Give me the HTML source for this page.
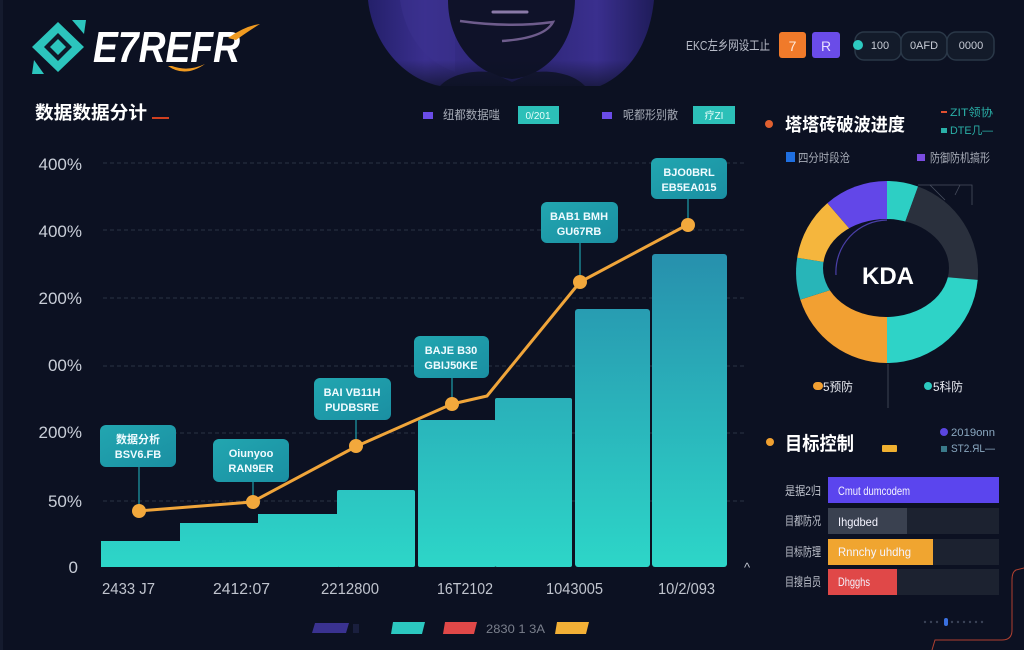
<!DOCTYPE html>
<html><head><meta charset="utf-8"><style>
html,body{margin:0;padding:0;background:#0c1122;}
svg{display:block;}
text{font-family:"Liberation Sans","Noto Sans CJK SC",sans-serif;}
</style></head><body>
<svg width="1024" height="650" viewBox="0 0 1024 650" xmlns="http://www.w3.org/2000/svg">
<defs>
<linearGradient id="barg" gradientUnits="userSpaceOnUse" x1="0" y1="254" x2="0" y2="567">
<stop offset="0" stop-color="#2790ad"/><stop offset="1" stop-color="#2dd6c8"/>
</linearGradient>
<linearGradient id="boxg" x1="0" y1="0" x2="1" y2="1">
<stop offset="0" stop-color="#22a6b0"/><stop offset="1" stop-color="#1a8fa2"/>
</linearGradient>
<linearGradient id="hood" x1="0" y1="0" x2="1" y2="0">
<stop offset="0" stop-color="#24206a"/><stop offset="0.2" stop-color="#3a2f8e"/><stop offset="0.5" stop-color="#2a2470"/><stop offset="0.8" stop-color="#3a2f8e"/><stop offset="1" stop-color="#1f1c5a"/>
</linearGradient>
<linearGradient id="hoodfade" x1="0" y1="0" x2="0" y2="1">
<stop offset="0" stop-color="#0c1122" stop-opacity="0"/><stop offset="1" stop-color="#0c1122" stop-opacity="0.7"/>
</linearGradient>
</defs>
<rect width="1024" height="650" fill="#0c1122"/>
<rect x="0" y="0" width="3" height="650" fill="#151b2e"/>

<!-- silhouette -->
<path d="M368,0 C372,40 400,78 440,86 L600,86 C632,72 650,40 654,0 Z" fill="url(#hood)"/>
<path d="M400,0 C405,35 425,62 455,72 L455,0 Z" fill="#3b318f" opacity="0.5"/>
<path d="M448,0 C448,45 478,76 512,79 C546,76 574,45 575,0 Z" fill="#0f1229"/>
<path d="M440,86 C450,75 470,70 490,72 L512,82 L535,72 C555,70 575,75 585,86 Z" fill="#141733"/>
<path d="M493,12 L527,12" stroke="#8a7aa8" stroke-width="3" stroke-linecap="round"/>
<path d="M460,21 Q510,28 553,22 Q545,38 502,41" stroke="#6e5c8c" stroke-width="2.5" fill="none"/>
<rect x="368" y="60" width="290" height="28" fill="url(#hoodfade)"/>

<!-- logo -->
<g>
<path d="M58,22 L84,47 L58,72 L32,47 Z" fill="#2cc5bd"/>
<path d="M72,20 L86,20 L84,34 Z" fill="#2cc5bd"/>
<path d="M44,74 L32,74 L34,60 Z" fill="#2cc5bd"/>
<path d="M58,33 L72,47 L58,61 L44,47 Z" fill="#0f1828"/>
<path d="M58,39 L66,47 L58,55 L50,47 Z" fill="#2cc5bd"/>
</g>
<text x="93" y="62" font-size="44" font-weight="bold" font-style="italic" fill="#ffffff" textLength="147" lengthAdjust="spacingAndGlyphs">E7REFR</text>
<path d="M228,38 Q245,26 260,24 Q250,30 236,40 Z" fill="#f09a20"/>
<path d="M168,66 Q185,78 205,64 Q188,72 172,66 Z" fill="#f09a20"/>

<!-- header right -->
<text x="686" y="50" font-size="13" fill="#b8bcc8" textLength="84" lengthAdjust="spacingAndGlyphs">EKC左乡网设工止</text>
<rect x="779" y="32" width="27" height="26" rx="3" fill="#f07a2a"/>
<text x="792.5" y="51" font-size="14" fill="#ffe8d8" text-anchor="middle">7</text>
<rect x="812" y="32" width="28" height="26" rx="3" fill="#6a4ce8"/>
<text x="826" y="51" font-size="14" fill="#e8e0ff" text-anchor="middle">R</text>
<rect x="855" y="32" width="46" height="28" rx="9" fill="#131b2a" stroke="#2a3848" stroke-width="1.5"/>
<rect x="901" y="32" width="46" height="28" rx="9" fill="#131b2a" stroke="#2a3848" stroke-width="1.5"/>
<rect x="947" y="32" width="47" height="28" rx="9" fill="#131b2a" stroke="#2a3848" stroke-width="1.5"/>
<circle cx="858" cy="45" r="5" fill="#2dc9c0"/>
<text x="880" y="49" font-size="11" fill="#c8ccd6" text-anchor="middle">100</text>
<text x="924" y="49" font-size="11" fill="#c8ccd6" text-anchor="middle">0AFD</text>
<text x="971" y="49" font-size="11" fill="#c8ccd6" text-anchor="middle">0000</text>

<!-- section title -->
<text x="35" y="119" font-size="18" font-weight="bold" fill="#ffffff" textLength="112" lengthAdjust="spacingAndGlyphs">数据数据分计</text>
<rect x="152" y="117" width="17" height="2" fill="#d04020"/>

<!-- top legend -->
<rect x="423" y="112" width="10" height="7" fill="#6a4ce8"/>
<text x="443" y="119" font-size="12" fill="#a8adb8" textLength="57" lengthAdjust="spacingAndGlyphs">纽都数据嗤</text>
<rect x="518" y="106" width="41" height="18" fill="#2cc0b8"/>
<text x="538" y="119" font-size="10" fill="#e8fffc" text-anchor="middle">0/201</text>
<rect x="602" y="112" width="10" height="7" fill="#6a4ce8"/>
<text x="623" y="119" font-size="12" fill="#a8adb8" textLength="55" lengthAdjust="spacingAndGlyphs">呢都形别散</text>
<rect x="693" y="106" width="42" height="18" fill="#2cc0b8"/>
<text x="714" y="119" font-size="10" fill="#e8fffc" text-anchor="middle">疗ZI</text>

<!-- grid -->
<g stroke="#2a3244" stroke-width="1" stroke-dasharray="4 3">
<line x1="103" y1="163" x2="745" y2="163"/>
<line x1="103" y1="230" x2="745" y2="230"/>
<line x1="103" y1="298" x2="745" y2="298"/>
<line x1="103" y1="366" x2="745" y2="366"/>
<line x1="103" y1="433" x2="745" y2="433"/>
<line x1="103" y1="501" x2="745" y2="501"/>
</g>
<g font-size="17" fill="#c9ced8" text-anchor="end">
<text x="82" y="170">400%</text>
<text x="82" y="237">400%</text>
<text x="82" y="304">200%</text>
<text x="82" y="371">00%</text>
<text x="82" y="438">200%</text>
<text x="82" y="507">50%</text>
<text x="78" y="573">0</text>
</g>

<!-- bars -->
<g fill="url(#barg)">
<rect x="101" y="541" width="80" height="26"/>
<rect x="180" y="523" width="79" height="44"/>
<rect x="258" y="514" width="80" height="53"/>
<rect x="337" y="490" width="78" height="77" rx="2"/>
<rect x="418" y="420" width="78" height="147" rx="2"/>
<rect x="495" y="398" width="77" height="169" rx="2"/>
<rect x="575" y="309" width="75" height="258" rx="3"/>
<rect x="652" y="254" width="75" height="313" rx="3"/>
</g>

<!-- stems -->
<g stroke="#1e9fab" stroke-width="1.2">
<line x1="139" y1="467" x2="139" y2="511"/>
<line x1="253" y1="482" x2="253" y2="502"/>
<line x1="356" y1="420" x2="356" y2="446"/>
<line x1="452" y1="378" x2="452" y2="404"/>
<line x1="580" y1="243" x2="580" y2="282"/>
<line x1="688" y1="199" x2="688" y2="225"/>
</g>

<!-- line -->
<path d="M138,511 L252,502 L357,446 L452,404 L487,396 L580,282 L687,225" fill="none" stroke="#f0a53a" stroke-width="3" stroke-linejoin="round"/>
<g fill="#f2a83c">
<circle cx="139" cy="511" r="7"/>
<circle cx="253" cy="502" r="7"/>
<circle cx="356" cy="446" r="7"/>
<circle cx="452" cy="404" r="7"/>
<circle cx="580" cy="282" r="7"/>
<circle cx="688" cy="225" r="7"/>
</g>

<!-- callouts -->
<g fill="url(#boxg)">
<rect x="100" y="425" width="76" height="42" rx="6"/>
<rect x="213" y="439" width="76" height="43" rx="6"/>
<rect x="314" y="378" width="77" height="42" rx="6"/>
<rect x="414" y="336" width="75" height="42" rx="6"/>
<rect x="541" y="202" width="77" height="41" rx="6"/>
<rect x="651" y="158" width="76" height="41" rx="6"/>
</g>
<g font-size="11" font-weight="bold" fill="#f0fbff" text-anchor="middle">
<text x="138" y="443">数据分析</text><text x="138" y="458">BSV6.FB</text>
<text x="251" y="457">Oiunyoo</text><text x="251" y="472">RAN9ER</text>
<text x="352" y="396">BAI VB11H</text><text x="352" y="411">PUDBSRE</text>
<text x="451" y="354">BAJE B30</text><text x="451" y="369">GBIJ50KE</text>
<text x="579" y="220">BAB1 BMH</text><text x="579" y="235">GU67RB</text>
<text x="689" y="176">BJO0BRL</text><text x="689" y="191">EB5EA015</text>
</g>

<!-- x labels -->
<g font-size="16" fill="#c0c4ce">
<text x="102" y="594" textLength="53" lengthAdjust="spacingAndGlyphs">2433 J7</text>
<text x="213" y="594" textLength="57" lengthAdjust="spacingAndGlyphs">2412:07</text>
<text x="321" y="594" textLength="58" lengthAdjust="spacingAndGlyphs">2212800</text>
<text x="437" y="594" textLength="56" lengthAdjust="spacingAndGlyphs">16T2102</text>
<text x="546" y="594" textLength="57" lengthAdjust="spacingAndGlyphs">1043005</text>
<text x="658" y="594" textLength="57" lengthAdjust="spacingAndGlyphs">10/2/093</text>
</g>
<text x="744" y="572" font-size="13" fill="#c0c4ce">^</text>

<!-- bottom legend -->
<path d="M315,623 L349,623 L346,633 L312,633 Z" fill="#3a3290"/>
<rect x="353" y="624" width="6" height="9" fill="#1a1f3e"/>
<path d="M393,622 L425,622 L422,634 L391,634 Z" fill="#2cc8c0"/>
<path d="M445,622 L477,622 L474,634 L443,634 Z" fill="#e04848"/>
<text x="486" y="633" font-size="12" fill="#7a7f8c" textLength="59" lengthAdjust="spacingAndGlyphs">2830 1 3A</text>
<path d="M557,622 L589,622 L586,634 L555,634 Z" fill="#f3b036"/>

<!-- right panel: donut section -->
<circle cx="769" cy="124" r="4" fill="#e06030"/>
<text x="785" y="131" font-size="18" font-weight="bold" fill="#ffffff" textLength="120" lengthAdjust="spacingAndGlyphs">塔塔砖破波进度</text>
<rect x="941" y="111" width="6" height="2" fill="#e05030"/>
<text x="950" y="116" font-size="11" fill="#2ab0a8" textLength="43" lengthAdjust="spacingAndGlyphs">ZIT领协</text>
<rect x="941" y="128" width="6" height="5" fill="#2ab0a8"/>
<text x="950" y="134" font-size="11" fill="#2ab0a8" textLength="43" lengthAdjust="spacingAndGlyphs">DTE几—</text>
<rect x="786" y="152" width="9" height="10" fill="#1f6fe0"/>
<text x="798" y="162" font-size="12" fill="#a8adb8" textLength="52" lengthAdjust="spacingAndGlyphs">四分时段沧</text>
<rect x="917" y="154" width="8" height="7" fill="#7a4ce0"/>
<text x="930" y="162" font-size="12" fill="#a8adb8" textLength="60" lengthAdjust="spacingAndGlyphs">防御防机搞形</text>

<!-- donut wedges, center 887,272 r 91 -->
<g id="donut">
<path d="M887,272 L887,181 A91,91 0 0 1 918.1,186.5 Z" fill="#2dcfc4"/>
<path d="M887,272 L918.1,186.5 A91,91 0 0 1 977.7,279.9 Z" fill="#2a303d"/>
<path d="M887,272 L977.7,279.9 A91,91 0 0 1 887,363 Z" fill="#2ed3c7"/>
<path d="M887,272 L887,363 A91,91 0 0 1 800.3,299.6 Z" fill="#f2a032"/>
<path d="M887,272 L800.3,299.6 A91,91 0 0 1 797.2,257.8 Z" fill="#28b5b8"/>
<path d="M887,272 L797.2,257.8 A91,91 0 0 1 827.4,203.1 Z" fill="#f5b63d"/>
<path d="M887,272 L827.4,203.1 A91,91 0 0 1 887,181 Z" fill="#6247e8"/>
<ellipse cx="886" cy="268" rx="63" ry="49" fill="#0c1122"/>
</g>
<path d="M887,220 A52,52 0 0 0 836,275" fill="none" stroke="#4a3fa8" stroke-width="1.2"/>
<g stroke="#4a5060" stroke-width="0.8" fill="none">
<path d="M918,185 L972,185 L972,205"/>
<path d="M930,185 L945,200"/>
<path d="M960,185 L955,195"/>
</g>
<line x1="888" y1="364" x2="888" y2="408" stroke="#4a5060" stroke-width="0.8"/>
<text x="888" y="284" font-size="24" font-weight="bold" fill="#ffffff" text-anchor="middle">KDA</text>
<rect x="813" y="382" width="10" height="8" rx="4" fill="#f2a032"/>
<text x="823" y="391" font-size="12" fill="#e8eaf0" textLength="30" lengthAdjust="spacingAndGlyphs">5预防</text>
<circle cx="928" cy="386" r="4" fill="#2dc9c0"/>
<text x="933" y="391" font-size="12" fill="#e8eaf0" textLength="30" lengthAdjust="spacingAndGlyphs">5科防</text>

<!-- target control -->
<circle cx="770" cy="442" r="4" fill="#f0a030"/>
<text x="785" y="450" font-size="19" font-weight="bold" fill="#ffffff" textLength="69" lengthAdjust="spacingAndGlyphs">目标控制</text>
<rect x="882" y="445" width="15" height="7" rx="1" fill="#f0b030"/>
<circle cx="944" cy="432" r="4" fill="#5a45e0"/>
<text x="951" y="436" font-size="11" fill="#8aa8c0" textLength="44" lengthAdjust="spacingAndGlyphs">2019onn</text>
<rect x="941" y="446" width="6" height="6" fill="#3a7a8a"/>
<text x="951" y="452" font-size="11" fill="#8aa8c0" textLength="44" lengthAdjust="spacingAndGlyphs">ST2.ЯL—</text>

<g font-size="12" fill="#c0c4ce">
<text x="785" y="495" textLength="36" lengthAdjust="spacingAndGlyphs">是据2归</text>
<text x="785" y="525" textLength="36" lengthAdjust="spacingAndGlyphs">目都防况</text>
<text x="785" y="556" textLength="36" lengthAdjust="spacingAndGlyphs">目标防理</text>
<text x="785" y="586" textLength="36" lengthAdjust="spacingAndGlyphs">目搜自员</text>
</g>
<rect x="828" y="477" width="171" height="26" fill="#5b45ee"/>
<rect x="828" y="508" width="171" height="26" fill="#1c2230"/>
<rect x="828" y="508" width="79" height="26" fill="#3a4150"/>
<rect x="828" y="539" width="171" height="26" fill="#1c2230"/>
<rect x="828" y="539" width="105" height="26" fill="#f0a530"/>
<rect x="828" y="569" width="171" height="26" fill="#1c2230"/>
<rect x="828" y="569" width="69" height="26" fill="#e04848"/>
<g font-size="12" fill="#f4f4ff">
<text x="838" y="495" textLength="72" lengthAdjust="spacingAndGlyphs">Cmut dumcodem</text>
<text x="838" y="526" textLength="40" lengthAdjust="spacingAndGlyphs">Ihgdbed</text>
<text x="838" y="556" textLength="73" lengthAdjust="spacingAndGlyphs">Rnnchy uhdhg</text>
<text x="838" y="586" textLength="32" lengthAdjust="spacingAndGlyphs">Dhgghs</text>
</g>

<!-- pagination -->
<g fill="#3a4256">
<circle cx="925" cy="622" r="1.2"/><circle cx="931" cy="622" r="1.2"/><circle cx="937" cy="622" r="1.2"/>
<circle cx="952" cy="622" r="1.2"/><circle cx="958" cy="622" r="1.2"/><circle cx="964" cy="622" r="1.2"/>
<circle cx="970" cy="622" r="1.2"/><circle cx="976" cy="622" r="1.2"/><circle cx="982" cy="622" r="1.2"/>
</g>
<rect x="944" y="618" width="4" height="8" rx="2" fill="#3a70e0"/>

<!-- corner frame -->
<path d="M1024,568 L1016,570 Q1012,572 1012,580 L1012,630 Q1012,640 1002,640 L935,640 L932,650" fill="none" stroke="#b04030" stroke-width="1"/>
</svg>
</body></html>
